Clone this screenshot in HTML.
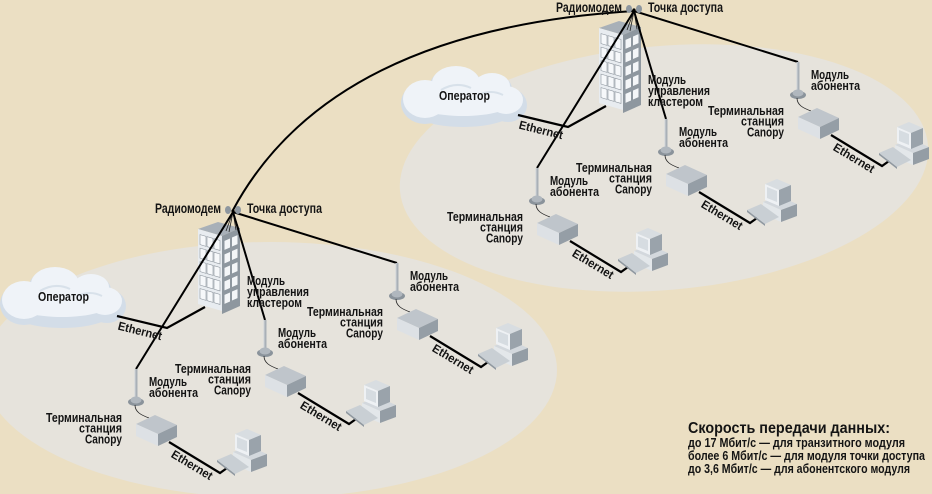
<!DOCTYPE html>
<html><head><meta charset="utf-8"><style>
html,body{margin:0;padding:0;background:#ebdfc3;}
svg{display:block;}
text{font-family:"Liberation Sans","DejaVu Sans",sans-serif;font-weight:bold;fill:#141414;}
</style></head><body>
<svg width="932" height="494" viewBox="0 0 932 494" xmlns="http://www.w3.org/2000/svg">
<rect width="932" height="494" fill="#ebdfc3"/>
<ellipse cx="270" cy="370" rx="287" ry="128" fill="#e6e3dc"/>
<ellipse cx="664" cy="168" rx="265" ry="122" transform="rotate(-5 664 168)" fill="#e6e3dc"/>
<path d="M233,210 Q330,30 634,11" stroke="#000" stroke-width="2" fill="none"/>

<!-- ===== LOWER CLUSTER ===== -->
<g>
 <g fill="#d3dde8">
  <ellipse cx="24" cy="304" rx="24" ry="21"/><ellipse cx="55" cy="287" rx="26" ry="19"/><ellipse cx="91" cy="290" rx="20" ry="15"/><ellipse cx="107" cy="306" rx="19" ry="17"/><ellipse cx="62" cy="311" rx="52" ry="17"/>
 </g>
 <g fill="#eff3f8">
  <ellipse cx="24" cy="300" rx="22" ry="19"/><ellipse cx="55" cy="284" rx="24" ry="17"/><ellipse cx="91" cy="287" rx="18" ry="13"/><ellipse cx="105" cy="301" rx="17" ry="14"/><ellipse cx="62" cy="303" rx="50" ry="14"/>
 </g>
 <path d="M40,291 q15,-9 30,-2 M78,296 q12,-6 24,0" stroke="#d8e1ea" stroke-width="2" fill="none"/>
 <text x="38" y="301" font-size="12.5" textLength="51" lengthAdjust="spacingAndGlyphs">Оператор</text>
 <polygon points="198,229 218,222 240,228 222,236" fill="#a8b0b8"/>
 <g transform="translate(198,229) skewY(16.3)">
  <rect x="0" y="0" width="24" height="75" fill="#e8ecf0"/>
  <g fill="#f6f8fa" stroke="#8d959d" stroke-width="0.6">
   <rect x="2" y="5" width="6" height="10"/><rect x="9" y="5" width="6" height="10"/><rect x="16" y="5" width="6" height="10"/>
   <rect x="2" y="18.5" width="6" height="10"/><rect x="9" y="18.5" width="6" height="10"/><rect x="16" y="18.5" width="6" height="10"/>
   <rect x="2" y="32" width="6" height="10"/><rect x="9" y="32" width="6" height="10"/><rect x="16" y="32" width="6" height="10"/>
   <rect x="2" y="45.5" width="6" height="10"/><rect x="9" y="45.5" width="6" height="10"/><rect x="16" y="45.5" width="6" height="10"/>
   <rect x="2" y="59" width="6" height="10"/><rect x="9" y="59" width="6" height="10"/><rect x="16" y="59" width="6" height="10"/>
  </g>
 </g>
 <g transform="translate(222,236) skewY(-24)">
  <rect x="0" y="0" width="18" height="78" fill="#8e979f"/>
  <g fill="#f4f6f8">
   <rect x="2.5" y="6" width="5.5" height="9"/><rect x="10" y="6" width="5.5" height="9"/>
   <rect x="2.5" y="19.5" width="5.5" height="9"/><rect x="10" y="19.5" width="5.5" height="9"/>
   <rect x="2.5" y="33" width="5.5" height="9"/><rect x="10" y="33" width="5.5" height="9"/>
   <rect x="2.5" y="46.5" width="5.5" height="9"/><rect x="10" y="46.5" width="5.5" height="9"/>
   <rect x="2.5" y="60" width="5.5" height="9"/><rect x="10" y="60" width="5.5" height="9"/>
  </g>
 </g>
 <path d="M233,212 L226,231 M233,212 L229,232 M233,212 L236,230 M233,212 L239,229" stroke="#222" stroke-width="0.8" fill="none"/>
 <path d="M233,212 L397,263 M233,212 L265,320 M233,212 L136,369" stroke="#000" stroke-width="2" fill="none"/>
 <polyline points="117,316 167,328 205,307" stroke="#000" stroke-width="2.2" fill="none"/>
 <text transform="translate(140,331) rotate(14)" x="-22.5" y="4" font-size="12" textLength="45" lengthAdjust="spacingAndGlyphs">Ethernet</text>
 <ellipse cx="228" cy="210" rx="3" ry="4" fill="#8e979f"/><ellipse cx="238" cy="210" rx="3" ry="4" fill="#8e979f"/><circle cx="233" cy="211" r="1.6" fill="#000"/>
 <text x="155" y="213" font-size="13.5" textLength="66" lengthAdjust="spacingAndGlyphs">Радиомодем</text>
 <text x="247" y="213" font-size="13.5" textLength="75" lengthAdjust="spacingAndGlyphs">Точка доступа</text>
 <text x="247" y="285" font-size="12.5" textLength="38" lengthAdjust="spacingAndGlyphs">Модуль</text>
 <text x="247" y="296" font-size="12.5" textLength="62" lengthAdjust="spacingAndGlyphs">управления</text>
 <text x="247" y="307" font-size="12.5" textLength="55" lengthAdjust="spacingAndGlyphs">кластером</text>

 <g>
  <rect x="395.5" y="263" width="3" height="30" fill="#a9b0b7"/><rect x="395.5" y="263" width="1" height="30" fill="#d0d5da"/>
  <ellipse cx="397" cy="296" rx="8" ry="4" fill="#8a939b"/><ellipse cx="397" cy="294" rx="5.5" ry="3.5" fill="#b0b7be"/>
  <path d="M396,299 C396,306 402,309 410,312" stroke="#222" stroke-width="0.8" fill="none"/>
  <polygon points="397,318 416,309 438,319 419,328" fill="#bfc5cb"/>
  <polygon points="397,318 419,328 419,340 397,330" fill="#dde1e5"/>
  <polygon points="419,328 438,319 438,331 419,340" fill="#959ea6"/>
  <polyline points="430,336 481,367 488,362" stroke="#000" stroke-width="2.2" fill="none"/>
  <text transform="translate(453,359) rotate(31)" x="-23" y="4" font-size="12" textLength="46" lengthAdjust="spacingAndGlyphs">Ethernet</text>
  <polygon points="494,346 510,340 528,348 512,354" fill="#d3d8dd"/><polygon points="494,346 512,354 512,366 494,358" fill="#e3e7ea"/><polygon points="512,354 528,348 528,360 512,366" fill="#949da5"/>
  <polygon points="496,328 508,323 522,329 510,334" fill="#d8dde1"/><polygon points="496,328 510,334 510,350 496,344" fill="#eef1f4"/><polygon points="498,331 508,335 508,346 498,342" fill="#d6dce1"/><polygon points="510,334 522,329 522,345 510,350" fill="#9aa3ab"/>
  <polygon points="478,354 492,348 510,361 496,368" fill="#c9cfd4"/><polygon points="478,354 496,368 496,370 478,356" fill="#8f98a0"/>
  <text x="410" y="280" font-size="12.5" textLength="38" lengthAdjust="spacingAndGlyphs">Модуль</text>
  <text x="410" y="291" font-size="12.5" textLength="49" lengthAdjust="spacingAndGlyphs">абонента</text>
  <text x="307" y="316" font-size="12.5" textLength="76" lengthAdjust="spacingAndGlyphs">Терминальная</text>
  <text x="340" y="326.7" font-size="12.5" textLength="43" lengthAdjust="spacingAndGlyphs">станция</text>
  <text x="346" y="337.3" font-size="12.5" textLength="37" lengthAdjust="spacingAndGlyphs">Canopy</text>
 </g>
 <g transform="translate(-132,57)">
  <rect x="395.5" y="263" width="3" height="30" fill="#a9b0b7"/><rect x="395.5" y="263" width="1" height="30" fill="#d0d5da"/>
  <ellipse cx="397" cy="296" rx="8" ry="4" fill="#8a939b"/><ellipse cx="397" cy="294" rx="5.5" ry="3.5" fill="#b0b7be"/>
  <path d="M396,299 C396,306 402,309 410,312" stroke="#222" stroke-width="0.8" fill="none"/>
  <polygon points="397,318 416,309 438,319 419,328" fill="#bfc5cb"/>
  <polygon points="397,318 419,328 419,340 397,330" fill="#dde1e5"/>
  <polygon points="419,328 438,319 438,331 419,340" fill="#959ea6"/>
  <polyline points="430,336 481,367 488,362" stroke="#000" stroke-width="2.2" fill="none"/>
  <text transform="translate(453,359) rotate(31)" x="-23" y="4" font-size="12" textLength="46" lengthAdjust="spacingAndGlyphs">Ethernet</text>
  <polygon points="494,346 510,340 528,348 512,354" fill="#d3d8dd"/><polygon points="494,346 512,354 512,366 494,358" fill="#e3e7ea"/><polygon points="512,354 528,348 528,360 512,366" fill="#949da5"/>
  <polygon points="496,328 508,323 522,329 510,334" fill="#d8dde1"/><polygon points="496,328 510,334 510,350 496,344" fill="#eef1f4"/><polygon points="498,331 508,335 508,346 498,342" fill="#d6dce1"/><polygon points="510,334 522,329 522,345 510,350" fill="#9aa3ab"/>
  <polygon points="478,354 492,348 510,361 496,368" fill="#c9cfd4"/><polygon points="478,354 496,368 496,370 478,356" fill="#8f98a0"/>
  <text x="410" y="280" font-size="12.5" textLength="38" lengthAdjust="spacingAndGlyphs">Модуль</text>
  <text x="410" y="291" font-size="12.5" textLength="49" lengthAdjust="spacingAndGlyphs">абонента</text>
  <text x="307" y="316" font-size="12.5" textLength="76" lengthAdjust="spacingAndGlyphs">Терминальная</text>
  <text x="340" y="326.7" font-size="12.5" textLength="43" lengthAdjust="spacingAndGlyphs">станция</text>
  <text x="346" y="337.3" font-size="12.5" textLength="37" lengthAdjust="spacingAndGlyphs">Canopy</text>
 </g>
 <g transform="translate(-261,106)">
  <rect x="395.5" y="263" width="3" height="30" fill="#a9b0b7"/><rect x="395.5" y="263" width="1" height="30" fill="#d0d5da"/>
  <ellipse cx="397" cy="296" rx="8" ry="4" fill="#8a939b"/><ellipse cx="397" cy="294" rx="5.5" ry="3.5" fill="#b0b7be"/>
  <path d="M396,299 C396,306 402,309 410,312" stroke="#222" stroke-width="0.8" fill="none"/>
  <polygon points="397,318 416,309 438,319 419,328" fill="#bfc5cb"/>
  <polygon points="397,318 419,328 419,340 397,330" fill="#dde1e5"/>
  <polygon points="419,328 438,319 438,331 419,340" fill="#959ea6"/>
  <polyline points="430,336 481,367 488,362" stroke="#000" stroke-width="2.2" fill="none"/>
  <text transform="translate(453,359) rotate(31)" x="-23" y="4" font-size="12" textLength="46" lengthAdjust="spacingAndGlyphs">Ethernet</text>
  <polygon points="494,346 510,340 528,348 512,354" fill="#d3d8dd"/><polygon points="494,346 512,354 512,366 494,358" fill="#e3e7ea"/><polygon points="512,354 528,348 528,360 512,366" fill="#949da5"/>
  <polygon points="496,328 508,323 522,329 510,334" fill="#d8dde1"/><polygon points="496,328 510,334 510,350 496,344" fill="#eef1f4"/><polygon points="498,331 508,335 508,346 498,342" fill="#d6dce1"/><polygon points="510,334 522,329 522,345 510,350" fill="#9aa3ab"/>
  <polygon points="478,354 492,348 510,361 496,368" fill="#c9cfd4"/><polygon points="478,354 496,368 496,370 478,356" fill="#8f98a0"/>
  <text x="410" y="280" font-size="12.5" textLength="38" lengthAdjust="spacingAndGlyphs">Модуль</text>
  <text x="410" y="291" font-size="12.5" textLength="49" lengthAdjust="spacingAndGlyphs">абонента</text>
  <text x="307" y="316" font-size="12.5" textLength="76" lengthAdjust="spacingAndGlyphs">Терминальная</text>
  <text x="340" y="326.7" font-size="12.5" textLength="43" lengthAdjust="spacingAndGlyphs">станция</text>
  <text x="346" y="337.3" font-size="12.5" textLength="37" lengthAdjust="spacingAndGlyphs">Canopy</text>
 </g>
</g>

<!-- ===== UPPER CLUSTER ===== -->
<g transform="translate(401,-201)">
 <g fill="#d3dde8">
  <ellipse cx="24" cy="304" rx="24" ry="21"/><ellipse cx="55" cy="287" rx="26" ry="19"/><ellipse cx="91" cy="290" rx="20" ry="15"/><ellipse cx="107" cy="306" rx="19" ry="17"/><ellipse cx="62" cy="311" rx="52" ry="17"/>
 </g>
 <g fill="#eff3f8">
  <ellipse cx="24" cy="300" rx="22" ry="19"/><ellipse cx="55" cy="284" rx="24" ry="17"/><ellipse cx="91" cy="287" rx="18" ry="13"/><ellipse cx="105" cy="301" rx="17" ry="14"/><ellipse cx="62" cy="303" rx="50" ry="14"/>
 </g>
 <path d="M40,291 q15,-9 30,-2 M78,296 q12,-6 24,0" stroke="#d8e1ea" stroke-width="2" fill="none"/>
 <text x="38" y="301" font-size="12.5" textLength="51" lengthAdjust="spacingAndGlyphs">Оператор</text>
 <polygon points="198,229 218,222 240,228 222,236" fill="#a8b0b8"/>
 <g transform="translate(198,229) skewY(16.3)">
  <rect x="0" y="0" width="24" height="75" fill="#e8ecf0"/>
  <g fill="#f6f8fa" stroke="#8d959d" stroke-width="0.6">
   <rect x="2" y="5" width="6" height="10"/><rect x="9" y="5" width="6" height="10"/><rect x="16" y="5" width="6" height="10"/>
   <rect x="2" y="18.5" width="6" height="10"/><rect x="9" y="18.5" width="6" height="10"/><rect x="16" y="18.5" width="6" height="10"/>
   <rect x="2" y="32" width="6" height="10"/><rect x="9" y="32" width="6" height="10"/><rect x="16" y="32" width="6" height="10"/>
   <rect x="2" y="45.5" width="6" height="10"/><rect x="9" y="45.5" width="6" height="10"/><rect x="16" y="45.5" width="6" height="10"/>
   <rect x="2" y="59" width="6" height="10"/><rect x="9" y="59" width="6" height="10"/><rect x="16" y="59" width="6" height="10"/>
  </g>
 </g>
 <g transform="translate(222,236) skewY(-24)">
  <rect x="0" y="0" width="18" height="78" fill="#8e979f"/>
  <g fill="#f4f6f8">
   <rect x="2.5" y="6" width="5.5" height="9"/><rect x="10" y="6" width="5.5" height="9"/>
   <rect x="2.5" y="19.5" width="5.5" height="9"/><rect x="10" y="19.5" width="5.5" height="9"/>
   <rect x="2.5" y="33" width="5.5" height="9"/><rect x="10" y="33" width="5.5" height="9"/>
   <rect x="2.5" y="46.5" width="5.5" height="9"/><rect x="10" y="46.5" width="5.5" height="9"/>
   <rect x="2.5" y="60" width="5.5" height="9"/><rect x="10" y="60" width="5.5" height="9"/>
  </g>
 </g>
 <path d="M233,212 L226,231 M233,212 L229,232 M233,212 L236,230 M233,212 L239,229" stroke="#222" stroke-width="0.8" fill="none"/>
 <path d="M233,212 L397,263 M233,212 L265,320 M233,212 L136,369" stroke="#000" stroke-width="2" fill="none"/>
 <polyline points="117,316 167,328 205,307" stroke="#000" stroke-width="2.2" fill="none"/>
 <text transform="translate(140,331) rotate(14)" x="-22.5" y="4" font-size="12" textLength="45" lengthAdjust="spacingAndGlyphs">Ethernet</text>
 <ellipse cx="228" cy="210" rx="3" ry="4" fill="#8e979f"/><ellipse cx="238" cy="210" rx="3" ry="4" fill="#8e979f"/><circle cx="233" cy="211" r="1.6" fill="#000"/>
 <text x="155" y="213" font-size="13.5" textLength="66" lengthAdjust="spacingAndGlyphs">Радиомодем</text>
 <text x="247" y="213" font-size="13.5" textLength="75" lengthAdjust="spacingAndGlyphs">Точка доступа</text>
 <text x="247" y="285" font-size="12.5" textLength="38" lengthAdjust="spacingAndGlyphs">Модуль</text>
 <text x="247" y="296" font-size="12.5" textLength="62" lengthAdjust="spacingAndGlyphs">управления</text>
 <text x="247" y="307" font-size="12.5" textLength="55" lengthAdjust="spacingAndGlyphs">кластером</text>

 <g>
  <rect x="395.5" y="263" width="3" height="30" fill="#a9b0b7"/><rect x="395.5" y="263" width="1" height="30" fill="#d0d5da"/>
  <ellipse cx="397" cy="296" rx="8" ry="4" fill="#8a939b"/><ellipse cx="397" cy="294" rx="5.5" ry="3.5" fill="#b0b7be"/>
  <path d="M396,299 C396,306 402,309 410,312" stroke="#222" stroke-width="0.8" fill="none"/>
  <polygon points="397,318 416,309 438,319 419,328" fill="#bfc5cb"/>
  <polygon points="397,318 419,328 419,340 397,330" fill="#dde1e5"/>
  <polygon points="419,328 438,319 438,331 419,340" fill="#959ea6"/>
  <polyline points="430,336 481,367 488,362" stroke="#000" stroke-width="2.2" fill="none"/>
  <text transform="translate(453,359) rotate(31)" x="-23" y="4" font-size="12" textLength="46" lengthAdjust="spacingAndGlyphs">Ethernet</text>
  <polygon points="494,346 510,340 528,348 512,354" fill="#d3d8dd"/><polygon points="494,346 512,354 512,366 494,358" fill="#e3e7ea"/><polygon points="512,354 528,348 528,360 512,366" fill="#949da5"/>
  <polygon points="496,328 508,323 522,329 510,334" fill="#d8dde1"/><polygon points="496,328 510,334 510,350 496,344" fill="#eef1f4"/><polygon points="498,331 508,335 508,346 498,342" fill="#d6dce1"/><polygon points="510,334 522,329 522,345 510,350" fill="#9aa3ab"/>
  <polygon points="478,354 492,348 510,361 496,368" fill="#c9cfd4"/><polygon points="478,354 496,368 496,370 478,356" fill="#8f98a0"/>
  <text x="410" y="280" font-size="12.5" textLength="38" lengthAdjust="spacingAndGlyphs">Модуль</text>
  <text x="410" y="291" font-size="12.5" textLength="49" lengthAdjust="spacingAndGlyphs">абонента</text>
  <text x="307" y="316" font-size="12.5" textLength="76" lengthAdjust="spacingAndGlyphs">Терминальная</text>
  <text x="340" y="326.7" font-size="12.5" textLength="43" lengthAdjust="spacingAndGlyphs">станция</text>
  <text x="346" y="337.3" font-size="12.5" textLength="37" lengthAdjust="spacingAndGlyphs">Canopy</text>
 </g>
 <g transform="translate(-132,57)">
  <rect x="395.5" y="263" width="3" height="30" fill="#a9b0b7"/><rect x="395.5" y="263" width="1" height="30" fill="#d0d5da"/>
  <ellipse cx="397" cy="296" rx="8" ry="4" fill="#8a939b"/><ellipse cx="397" cy="294" rx="5.5" ry="3.5" fill="#b0b7be"/>
  <path d="M396,299 C396,306 402,309 410,312" stroke="#222" stroke-width="0.8" fill="none"/>
  <polygon points="397,318 416,309 438,319 419,328" fill="#bfc5cb"/>
  <polygon points="397,318 419,328 419,340 397,330" fill="#dde1e5"/>
  <polygon points="419,328 438,319 438,331 419,340" fill="#959ea6"/>
  <polyline points="430,336 481,367 488,362" stroke="#000" stroke-width="2.2" fill="none"/>
  <text transform="translate(453,359) rotate(31)" x="-23" y="4" font-size="12" textLength="46" lengthAdjust="spacingAndGlyphs">Ethernet</text>
  <polygon points="494,346 510,340 528,348 512,354" fill="#d3d8dd"/><polygon points="494,346 512,354 512,366 494,358" fill="#e3e7ea"/><polygon points="512,354 528,348 528,360 512,366" fill="#949da5"/>
  <polygon points="496,328 508,323 522,329 510,334" fill="#d8dde1"/><polygon points="496,328 510,334 510,350 496,344" fill="#eef1f4"/><polygon points="498,331 508,335 508,346 498,342" fill="#d6dce1"/><polygon points="510,334 522,329 522,345 510,350" fill="#9aa3ab"/>
  <polygon points="478,354 492,348 510,361 496,368" fill="#c9cfd4"/><polygon points="478,354 496,368 496,370 478,356" fill="#8f98a0"/>
  <text x="410" y="280" font-size="12.5" textLength="38" lengthAdjust="spacingAndGlyphs">Модуль</text>
  <text x="410" y="291" font-size="12.5" textLength="49" lengthAdjust="spacingAndGlyphs">абонента</text>
  <text x="307" y="316" font-size="12.5" textLength="76" lengthAdjust="spacingAndGlyphs">Терминальная</text>
  <text x="340" y="326.7" font-size="12.5" textLength="43" lengthAdjust="spacingAndGlyphs">станция</text>
  <text x="346" y="337.3" font-size="12.5" textLength="37" lengthAdjust="spacingAndGlyphs">Canopy</text>
 </g>
 <g transform="translate(-261,106)">
  <rect x="395.5" y="263" width="3" height="30" fill="#a9b0b7"/><rect x="395.5" y="263" width="1" height="30" fill="#d0d5da"/>
  <ellipse cx="397" cy="296" rx="8" ry="4" fill="#8a939b"/><ellipse cx="397" cy="294" rx="5.5" ry="3.5" fill="#b0b7be"/>
  <path d="M396,299 C396,306 402,309 410,312" stroke="#222" stroke-width="0.8" fill="none"/>
  <polygon points="397,318 416,309 438,319 419,328" fill="#bfc5cb"/>
  <polygon points="397,318 419,328 419,340 397,330" fill="#dde1e5"/>
  <polygon points="419,328 438,319 438,331 419,340" fill="#959ea6"/>
  <polyline points="430,336 481,367 488,362" stroke="#000" stroke-width="2.2" fill="none"/>
  <text transform="translate(453,359) rotate(31)" x="-23" y="4" font-size="12" textLength="46" lengthAdjust="spacingAndGlyphs">Ethernet</text>
  <polygon points="494,346 510,340 528,348 512,354" fill="#d3d8dd"/><polygon points="494,346 512,354 512,366 494,358" fill="#e3e7ea"/><polygon points="512,354 528,348 528,360 512,366" fill="#949da5"/>
  <polygon points="496,328 508,323 522,329 510,334" fill="#d8dde1"/><polygon points="496,328 510,334 510,350 496,344" fill="#eef1f4"/><polygon points="498,331 508,335 508,346 498,342" fill="#d6dce1"/><polygon points="510,334 522,329 522,345 510,350" fill="#9aa3ab"/>
  <polygon points="478,354 492,348 510,361 496,368" fill="#c9cfd4"/><polygon points="478,354 496,368 496,370 478,356" fill="#8f98a0"/>
  <text x="410" y="280" font-size="12.5" textLength="38" lengthAdjust="spacingAndGlyphs">Модуль</text>
  <text x="410" y="291" font-size="12.5" textLength="49" lengthAdjust="spacingAndGlyphs">абонента</text>
  <text x="307" y="316" font-size="12.5" textLength="76" lengthAdjust="spacingAndGlyphs">Терминальная</text>
  <text x="340" y="326.7" font-size="12.5" textLength="43" lengthAdjust="spacingAndGlyphs">станция</text>
  <text x="346" y="337.3" font-size="12.5" textLength="37" lengthAdjust="spacingAndGlyphs">Canopy</text>
 </g>
</g>

<!-- legend -->
<text x="688" y="433" font-size="16" textLength="202" lengthAdjust="spacingAndGlyphs">Скорость передачи данных:</text>
<text x="688" y="447" font-size="12.5" textLength="217" lengthAdjust="spacingAndGlyphs">до 17 Мбит/с — для транзитного модуля</text>
<text x="688" y="460" font-size="12.5" textLength="237" lengthAdjust="spacingAndGlyphs">более 6 Мбит/с — для модуля точки доступа</text>
<text x="688" y="473" font-size="12.5" textLength="222" lengthAdjust="spacingAndGlyphs">до 3,6 Мбит/с — для абонентского модуля</text>
</svg>
</body></html>
